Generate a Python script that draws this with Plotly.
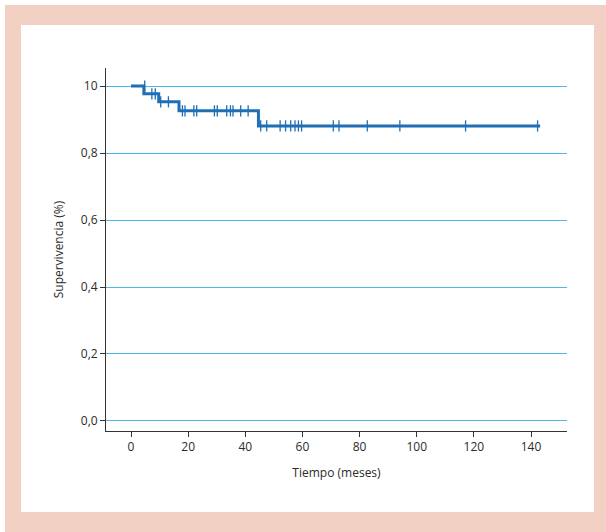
import plotly.graph_objects as go

# Kaplan-Meier step data
event_times = [0, 4.5, 9.7, 16.8, 44.6, 143.2]
survival = [1.0, 0.977, 0.953, 0.926, 0.881, 0.881]

# Censored observations
censor_times = [4.8, 7.3, 8.5, 10.4, 13.1,
                18.0, 18.9, 22.0, 23.0, 29.2, 30.2, 33.5, 34.8, 35.7, 38.4, 41.0,
                45.4, 47.5, 52.2, 54.1, 55.9, 57.4, 58.6, 59.7, 70.8, 72.8, 82.7,
                94.1, 117.1, 142.3]
censor_surv = [1.0, 0.977, 0.977, 0.953, 0.953,
               0.926, 0.926, 0.926, 0.926, 0.926, 0.926, 0.926, 0.926, 0.926, 0.926, 0.926,
               0.881, 0.881, 0.881, 0.881, 0.881, 0.881, 0.881, 0.881, 0.881, 0.881, 0.881,
               0.881, 0.881, 0.881]

x_ticks = [0, 20, 40, 60, 80, 100, 120, 140]
y_ticks = [0.0, 0.2, 0.4, 0.6, 0.8, 1.0]
y_tick_labels = ["0,0", "0,2", "0,4", "0,6", "0,8", "10"]

BLUE = "#1f6fb6"
W, H = 606, 532
L, R, T, B = 106, 39, 68, 101
pw, ph = W - L - R, H - T - B

def px_x(p):
    return (p - L) / pw

def px_y(p):
    return (H - B - p) / ph

fig = go.Figure()
fig.add_trace(go.Scatter(x=event_times, y=survival, mode="lines",
                         line=dict(color=BLUE, width=3, shape="hv"),
                         showlegend=False, hoverinfo="skip"))
fig.add_trace(go.Scatter(x=censor_times, y=censor_surv, mode="markers",
                         marker=dict(symbol="line-ns-open", size=8, color=BLUE,
                                     line=dict(color=BLUE, width=1.3)),
                         showlegend=False, hoverinfo="skip"))

fig.update_layout(
    width=W, height=H,
    margin=dict(l=L, r=R, t=T, b=B, pad=0),
    paper_bgcolor="white", plot_bgcolor="rgba(0,0,0,0)",
    font=dict(family="Open Sans, sans-serif", size=12, color="#2b2b2b"),
    shapes=[
        dict(type="rect", xref="paper", yref="paper", layer="below",
             x0=px_x(5), x1=px_x(606), y0=px_y(532), y1=px_y(5),
             fillcolor="#f2d1c4", line=dict(width=0)),
        dict(type="rect", xref="paper", yref="paper", layer="below",
             x0=px_x(21), x1=px_x(594), y0=px_y(512), y1=px_y(25),
             fillcolor="white", line=dict(width=0)),
    ],
    xaxis=dict(range=[-8.75, 152.6], tickvals=x_ticks, ticks="outside", ticklen=5,
               tickcolor="#333", showline=True, linecolor="#333", linewidth=1,
               showgrid=False, zeroline=False,
               title=dict(text="Tiempo (meses)", standoff=14, font=dict(size=12)),
               tickfont=dict(size=12)),
    yaxis=dict(range=[-0.03, 1.054], tickvals=y_ticks, ticktext=y_tick_labels,
               ticks="outside", ticklen=5, tickcolor="#333",
               showline=True, linecolor="#333", linewidth=1,
               showgrid=True, gridcolor="#4cb9ea", gridwidth=1, zeroline=False,
               title=dict(text="Supervivencia (%)", standoff=14, font=dict(size=12)),
               tickfont=dict(size=12)),
)

fig.write_html("out.html",
               config={"displayModeBar": False, "staticPlot": True},
               post_script="document.body.style.margin='0';document.body.style.overflow='hidden';")
